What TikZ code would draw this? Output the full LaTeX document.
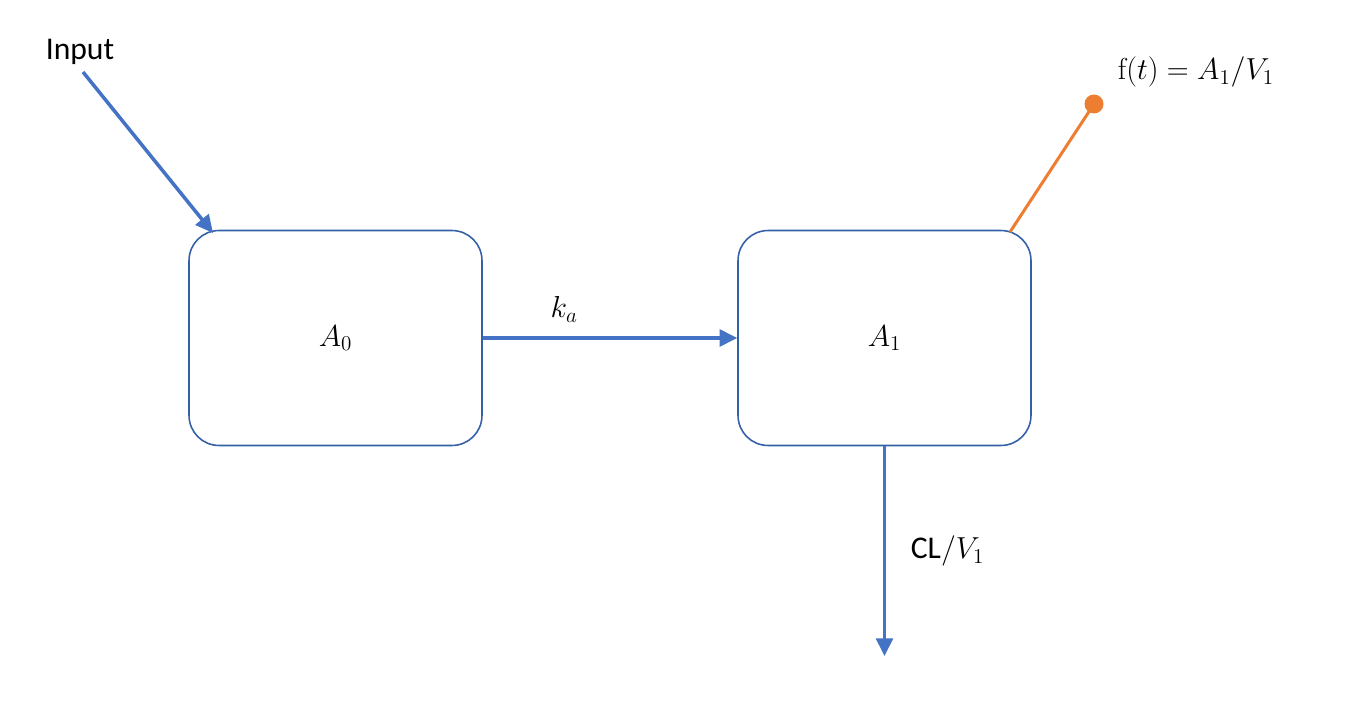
\documentclass[tikz,border=0pt]{standalone}
\usepackage[no-math]{fontspec}
\setmainfont{Carlito}
\usepackage{tikz}
\usetikzlibrary{arrows.meta}
\definecolor{flowblue}{HTML}{4472C4}
\definecolor{boxblue}{HTML}{3460A8}
\definecolor{obsorange}{HTML}{ED7D31}
\tikzstyle{compartment}=[rectangle,rounded corners=0.6cm,draw=boxblue,
                         line width=0.9pt,minimum width=5.86cm,
                         minimum height=4.3cm,inner sep=0pt]
\tikzstyle{flow}=[draw=flowblue,line width=2pt,
                  -{Triangle[length=10pt,width=9.5pt]}]
\tikzstyle{obsdot}=[circle,fill=obsorange,inner sep=0pt,minimum size=0.38cm]
\tikzstyle{lbl}=[font=\fontsize{18}{22}\selectfont,inner sep=0pt]

\begin{document}
\begin{tikzpicture}[x=0.02cm,y=-0.02cm]
    \useasboundingbox (0,0) rectangle (1355,706);
    % compartments
    \node (a0) at (335.5,338) [compartment]{};
    \node (a1) at (884.5,338) [compartment]{};
    \node at (a0) [lbl]{$A_0$};
    \node at (a1) [lbl]{$A_1$};
    % input
    \node (input) at (80,52) [lbl]{Input};
    \coordinate (instart) at (83,72);
    \coordinate (inend) at (213,233);
    \draw[flow] (instart) -- (inend);
    % absorption
    \draw[flow] (a0.east) -- (a1.west)
        node[pos=0.32,above=8pt,lbl]{$k_a$};
    % elimination
    \coordinate (out) at (884.5,656);
    \draw[flow] (a1.south) -- (out)
        node[pos=0.5,right=14pt,lbl]{CL$/V_1$};
    % observation
    \coordinate (obsfoot) at (1010,232);
    \node (obs) at (1094,104) [obsdot]{};
    \draw[draw=obsorange,line width=1.7pt] (obsfoot) -- (obs.center);
    \node (ft) at (1196,72) [lbl]{$\mathrm{f}(t) = A_1/V_1$};
\end{tikzpicture}
\end{document}
